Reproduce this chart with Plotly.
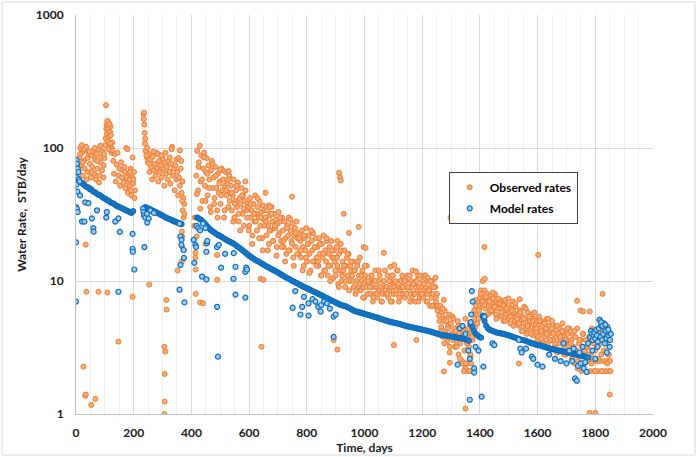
import plotly.graph_objects as go

# ---------------- Observed rates (STB/day) ----------------
# dense daily cloud sampled every 3 days
obs_early_start = 9
obs_early = [68, 85, 100, 74, 92, 62, 80, 70, 96, 58, 84, 66, 90, 76, 60, 88, 72, 95,
             64, 82, 58, 90, 70, 98, 62, 78, 86, 68, 94, 74, 84,
             105, 140, 120, 155, 130, 100, 145, 92, 110,
             80, 64, 90, 56, 75, 92, 62, 70, 52, 78, 60, 68, 55,
             72, 50, 100, 58, 46, 64, 52, 70, 44, 60, 54, 66, 48]
obs_mid_start = 234
obs_mid = [180, 150, 118, 96, 85, 78, 90, 66, 82, 72, 58, 86, 68, 76, 62, 92, 70, 56, 80, 66,
           74, 60, 84, 70, 52, 78, 64, 72, 58, 80, 66, 54, 76, 102, 62, 70, 48, 74, 58, 66,
           44, 60, 52, 70, 46, 56, 42, 38]
obs_late_start = 417
obs_late = [
    62, 95, 48, 78, 104, 56, 88, 40, 70, 92, 52, 66, 84, 44, 74, 58, 36, 68, 80, 50,
    60, 42, 72, 50, 34, 64, 46, 56, 38, 70, 48, 58, 30, 52, 66, 44, 54, 36, 62, 46,
    52, 34, 44, 58, 30, 40, 48, 36, 55, 28, 42, 38, 50, 32, 44, 26, 40, 48, 34, 38,
    36, 26, 42, 30, 34, 22, 38, 28, 44, 32, 24, 36, 30, 40, 26, 33, 21, 37, 29, 34,
    30, 22, 34, 26, 19, 31, 24, 36, 28, 20, 32, 25, 29, 18, 27, 33, 23, 28, 20, 30,
    24, 18, 28, 21, 16, 26, 22, 30, 17, 24, 20, 27, 15, 22, 25, 18, 28, 21, 16, 23,
    20, 15, 24, 18, 13, 21, 17, 25, 14, 19, 22, 16, 12, 20, 17, 23, 14, 18, 21, 15,
    18, 13, 21, 16, 11, 19, 15, 22, 12, 17, 14, 20, 11, 16, 18, 13, 20, 15, 10.5, 17,
    14, 11, 18, 13, 9.5, 16, 12, 19, 10, 14, 12, 17, 9, 13, 15, 11, 16, 10, 13, 12,
    11, 14, 9, 12, 8, 10, 13, 9, 11, 15, 8.5, 10, 12, 9, 7.5, 11, 10, 13, 8, 9.5,
    10, 8, 11, 9, 7, 10, 8, 12, 9, 7.5, 10, 8.5, 11, 9, 7, 8, 10, 9, 12, 8,
    9, 11, 7.5, 8.5, 10, 9, 7, 11, 8, 9.5, 10, 8, 12, 9, 7, 8.5, 10, 9, 11, 8,
    9, 7.5, 10, 8, 11, 9, 8.5, 7, 10, 9, 12, 8, 9.5, 7, 10, 8.5, 11, 9, 7.5, 8,
    9, 10, 7.5, 8.5, 11, 9, 7, 8, 10, 8.5, 6.5, 9, 7.5, 10, 8, 6.5, 9, 7, 8, 6.5,
    6, 5, 6.5, 4.5, 5.5, 3.8, 5, 6, 4.2, 5.2, 3.5, 4.6, 5.6, 3.2, 4.8, 4, 5.4, 3.6, 4.4, 3.2,
    4.2, 3.5, 5, 2.8, 4, 3.4, 4.6, 2.5, 3.8, 4.4, 3, 5.2, 3.6, 2.4, 4, 3.2, 4.8, 2.7, 4.2, 3.6,
    5, 6, 4.5, 6.5, 5.5, 7, 5.2, 6.2, 7.5, 8.5, 6.8, 10,
    7.5, 8.5, 6.2, 7, 8, 6.5, 7.2, 5.8, 7.8, 6.8, 6, 7.4, 6.4, 8, 5.6, 7, 6.2, 6.8, 5.4, 7.2,
    6.2, 5.5, 6.8, 5, 6.4, 7.2, 5.6, 6, 5.2, 6.6, 5.8, 4.8, 6.2, 5.4, 7, 5.8, 5, 6.4, 5.5, 4.8,
    5.6, 4.6, 6, 5, 4.2, 5.4, 4.8, 6.4, 4.4, 5.2, 4, 5.8, 4.6, 5, 4.2, 5.6, 4.8, 3.9, 5.2, 4.4,
    5, 4.2, 3.6, 4.6, 5.4, 3.9, 4.4, 5, 3.5, 4.2, 4.8, 3.8, 4.4, 5.2, 3.4, 4, 4.6, 3.6, 4.2, 5,
    3.6, 4.2, 3.2, 4.6, 3.8, 2.9, 4, 3.4, 4.4, 3.6, 3, 4.8, 3.8, 3.2, 4.2, 2.8, 3.6, 4, 3.3, 4.4,
    3, 3.6, 2.6, 4, 3.2, 2.4, 3.8, 3, 4.4, 2.5, 3.4, 2.8, 3.6, 2.1, 3.2, 4, 2.4, 3, 3.6, 2.5,
    3.2, 2.5, 3.8, 2.1, 2.8, 4.4, 2.5, 3.4, 2.1, 3, 3.8, 2.5, 2.1, 3.3, 2.5, 4.2, 2.8, 2.1, 3.6,
    2.5, 3, 2.1, 3.4, 2.5, 2.8, 2.1, 2.5]
# second pass through the same cloud, every 6 days from day 419
obs_fill_start = 419
obs_fill = [
    45, 72, 35, 58, 85, 40, 64, 50, 33, 76,
    38, 62, 30, 54, 44, 68, 34, 48, 58, 40,
    46, 28, 38, 52, 32, 24, 44, 35, 56, 30,
    24, 38, 19, 32, 28, 42, 21, 30, 17, 26,
    28, 17, 24, 32, 20, 26, 15.5, 22, 30, 18,
    20, 14, 25, 17, 29, 19, 13, 23, 16, 21,
    17, 12, 22, 15, 19, 11.5, 24, 14, 18, 13,
    14, 19, 11, 16, 12, 21, 13, 10, 17, 15,
    12, 15, 9, 17, 11, 13, 10, 16, 8.5, 14,
    10, 12, 8.5, 14, 9.5, 11, 7.5, 13, 9, 10,
    9, 11, 7.5, 10, 8, 12, 9, 7, 10, 8.5,
    8, 10, 7, 11, 9, 8.5, 12, 7.5, 10, 9,
    10, 8, 9, 11, 7.5, 9.5, 8, 10, 7, 11,
    8, 9.5, 11, 7, 8.5, 10, 6.5, 9, 7.5, 6,
    5.5, 4.2, 6.2, 3.4, 5, 4.4, 2.9, 4, 5.2, 3.8,
    3.2, 4.6, 2.6, 3.8, 4.2, 2.2, 3.4, 4.4, 2.8, 3.8,
    5.6, 7.2, 4.8, 6, 8, 7,
    6.6, 7.6, 5.6, 7, 6, 8.2, 6.4, 5.2, 7.4, 6.8,
    5.8, 6.6, 5, 6.2, 7.4, 5.4, 6, 4.6, 6.8, 5.2,
    4.8, 5.8, 4.2, 5.2, 6.2, 4.6, 5.4, 4, 5, 5.8,
    4.4, 3.8, 5, 4.2, 3.4, 4.8, 4, 5.2, 3.6, 4.4,
    4, 3.4, 4.6, 3, 3.8, 4.2, 2.8, 3.6, 4.4, 3.2,
    3.4, 2.6, 4.2, 3, 2.2, 3.6, 2.8, 4, 2.4, 3.2,
    2.8, 3.6, 2.4, 4.2, 2.1, 3.2, 2.6, 3.8, 2.1, 3, 4, 2.4, 2.8, 2.1]

# scattered observed points (day, rate)
obs_extra_days = [103, 104, 106, 107, 109, 110, 112, 113, 115, 116, 118, 119, 121, 124, 125, 113,
                  14, 20, 23, 28, 35, 47, 50, 55, 65, 73, 80, 85, 95, 97,
                  170, 175, 178, 181, 185, 188, 190, 196, 199, 203,
                  235, 236, 238, 239, 241, 244, 247, 253, 268, 285, 296, 310, 325, 331, 348, 355, 360, 365,
                  368, 370, 373, 376,
                  36, 78, 109, 147, 196, 254, 26, 32, 34, 67, 53, 34, 313, 314, 306, 310, 307, 307, 307,
                  352, 367, 368, 368, 367, 410, 412, 414, 414, 415, 418, 415, 430, 440, 449, 489, 489,
                  500, 529, 640, 650, 643, 657, 668, 672, 749, 893, 906, 906, 912, 915, 918, 928, 946, 980,
                  997, 1004, 1067, 1090, 1102, 1103, 1178, 1180, 1219, 1246, 1275, 1275, 1296, 1298,
                  1340, 1345, 1352, 1360, 1366, 1370, 1350, 1416, 1417, 1535, 1538, 1602, 1737, 1749,
                  1758, 1781, 1825, 1850, 1780, 1800]
obs_extra_rates = [118, 210, 150, 128, 160, 112, 138, 148, 122, 152, 132, 108, 125, 100, 96, 98,
                   90, 105, 78, 98, 102, 94, 50, 66, 100, 80, 55, 104, 60, 90,
                   66, 60, 98, 56, 58, 66, 48, 85, 58, 42,
                   165, 185, 130, 108, 95, 88, 100, 76, 94, 90, 88, 92, 85, 98, 82, 84, 96, 80,
                   40, 34, 30, 32,
                   8.3, 8.3, 8.2, 3.5, 7.6, 9.4, 2.27, 1.37, 1.4, 1.3, 1.17, 18.8, 7.2, 6.1, 3.2, 2.95, 2.0, 1.24, 1.0,
                   12, 23.5, 21.6, 18.1, 14, 26, 30, 16.3, 15, 12.2, 21.6, 8, 6.9, 6.8, 19, 10.2, 15.7,
                   69, 67, 10.4, 10.2, 3.2, 46, 37, 36, 43, 3.6, 3.05, 20, 65, 60, 57, 32, 23, 25.5,
                   18, 17.7, 16.3, 12.8, 3.3, 13.2, 11.8, 3.6, 10.6, 10.6, 7.2, 2.09, 2.43, 30,
                   2.4, 2.1, 2.4, 2.1, 2.1, 2.4, 1.1, 18, 10.4, 2.4, 7.3, 15.7, 7.1, 6.0,
                   5.9, 5.9, 8, 1.4, 1.02, 1.02]

# ---------------- Model rates (STB/day) ----------------
model_seg1_start = 18   # every 6 days
model_seg1 = [55, 53.5, 52.5, 51, 50.5, 49, 48.5, 47, 46.5, 45.5, 44.5, 44, 43, 42, 41.5, 40.5,
              40, 39, 38.5, 38, 37, 36.5, 36, 35.5, 35, 34.5, 34, 33.5, 33, 32.5, 33.5]
model_seg2_start = 240
model_seg2 = [36, 35.5, 35, 34.5, 34, 33.5, 33, 32.5, 32, 31.5, 31, 30.5, 30, 29.6, 29.2, 28.8,
              28.4, 28, 27.7, 27.4, 27.1, 26.8]
model_seg3_start = 420
model_seg3 = [
    30, 29.5, 29, 28.2, 27.4, 26.5, 25.6, 24.8, 24.1, 23.6,
    23.1, 22.6, 22.2, 21.9, 21.5, 21.1, 20.7, 20.3, 20, 19.7,
    19.4, 19.1, 18.7, 18.3, 17.9, 17.5, 17.1, 16.7, 16.3, 15.9,
    15.5, 15.2, 14.9, 14.6, 14.3, 14.1, 13.9, 13.6, 13.4, 13.1,
    12.9, 12.7, 12.5, 12.3, 12.1, 11.9, 11.7, 11.5, 11.3, 11.1,
    10.9, 10.7, 10.5, 10.4, 10.2, 10.0, 9.9, 9.7, 9.6, 9.4,
    9.3, 9.1, 9.0, 8.85, 8.75, 8.6, 8.5, 8.35, 8.25, 8.15,
    8.0, 7.9, 7.8, 7.65, 7.55, 7.45, 7.3, 7.2, 7.1, 7.0,
    6.9, 6.8, 6.7, 6.6, 6.55, 6.5, 6.45, 6.35, 6.25, 6.15,
    6.05, 5.95, 5.9, 5.85, 5.8, 5.75, 5.7, 5.65, 5.6, 5.55,
    5.5, 5.45, 5.4, 5.35, 5.3, 5.25, 5.2, 5.15, 5.1, 5.05,
    5.0, 4.95, 4.92, 4.88, 4.85, 4.82, 4.78, 4.74, 4.7, 4.66,
    4.62, 4.58, 4.55, 4.52, 4.49, 4.46, 4.43, 4.4, 4.37, 4.34,
    4.31, 4.28, 4.25, 4.22, 4.19, 4.16, 4.12, 4.08, 4.04, 4.0,
    3.97, 3.94, 3.92, 3.9, 3.88, 3.86, 3.84, 3.82, 3.8, 3.78,
    3.76, 3.74, 3.72, 3.7, 3.68, 3.64, 3.6, 3.55,
    4.7, 4.5, 4.2, 4.0, 3.9, 3.8, 3.75]
model_seg4_start = 1410
model_seg4 = [5.5, 5.0, 4.6, 4.4, 4.3, 4.25, 4.2, 4.15, 4.1, 4.08,
              4.05, 4.02, 4.0, 3.97, 3.94, 3.9, 3.86, 3.82, 3.78, 3.74,
              3.7, 3.66, 3.62, 3.6, 3.58, 3.55, 3.5, 3.46, 3.42, 3.38,
              3.35, 3.32, 3.3, 3.28, 3.25, 3.22, 3.19, 3.16, 3.13, 3.1,
              3.08, 3.06, 3.04, 3.02, 3.0, 2.98, 2.96, 2.94, 2.92, 2.9,
              2.88, 2.86, 2.84, 2.82, 2.8, 2.78, 2.76, 2.74, 2.72, 2.7,
              2.68, 2.66]
model_end_start = 1782  # every 3 days
model_end = [3.8, 4.2, 4.0, 3.6, 3.9, 4.1, 3.7, 4.3, 3.9, 3.5, 4.4, 5.1, 3.8, 4.6, 3.6, 4.0,
             4.8, 3.4, 4.2, 3.7, 4.5, 3.9, 4.1, 3.6, 4.0]

model_extra_days = [0, 0, 2, 4, 6, 8, 3, 10, 12, 1, 5, 14, 0, 3, 6, 21, 29, 32, 43, 55, 60, 61, 73, 107, 105,
                    136, 147, 147, 152, 196, 196, 197, 202, 237, 247, 232, 234, 236, 240, 246, 252, 258, 270,
                    359, 362, 366, 365, 373, 374, 362, 359, 376, 408, 414, 416, 410, 437, 452, 452, 454,
                    418, 424, 430, 440, 449, 455, 489, 489, 492, 495, 503, 517, 546, 547, 553, 553, 587, 587,
                    590, 593, 751, 760, 778, 784, 790, 806, 806, 820, 830, 840, 848, 850, 860, 870, 880, 893,
                    893, 900, 1323, 1330, 1340, 1350, 1360, 1365, 1365, 1368, 1370, 1372, 1375, 1380, 1380,
                    1385, 1395, 1406, 1412, 1413, 1416, 1444, 1450, 1535, 1540, 1545, 1560, 1580, 1585, 1600,
                    1617, 1640, 1660, 1680, 1690, 1700, 1710, 1720, 1725, 1730, 1736, 1740, 1745, 1750, 1756,
                    1760, 1765, 1770, 1775, 1790, 1800, 1808, 1815, 1820, 1825, 1835, 1845, 1850, 1840]
model_extra_rates = [7, 19.5, 81, 76, 70, 66, 60, 58, 56, 53, 47, 44, 36, 35, 33, 28, 28, 39, 38.5, 29.6,
                     25, 23.5, 34, 33, 30, 28, 29.6, 8.3, 23.4, 22.6, 17.4, 16.6, 12.2, 18, 27.5, 35, 33,
                     31, 30, 32, 29.5, 34, 32.5, 27, 21.6, 20.4, 18.7, 17.1, 14.9, 13.2, 8.6, 6.9, 20.4,
                     18.7, 18, 13.7, 10.8, 10.3, 16.6, 19.3, 26, 25, 24, 27, 25, 20, 18, 6.4, 2.7, 18.7,
                     12.6, 16, 10.4, 16.2, 7.9, 12.8, 7.5, 11.7, 12.6, 12.2, 6.3, 8.4, 5.6, 6.4, 7.6, 5.5,
                     6.8, 7.3, 7, 6.4, 5.9, 6.6, 7.0, 6.8, 6.2, 5.4, 3.8, 5.6, 2.35, 4.4, 4.6, 4.0, 3.0,
                     1.28, 2.6, 4.9, 5.6, 8.4, 7, 2.2, 2.05, 3.2, 3.0, 1.35, 2.27, 5.3, 5.4, 3.4, 3.3, 3.6,
                     3.1, 2.9, 3.1, 2.7, 2.6, 2.35, 2.27, 2.8, 2.6, 2.5, 3.4, 2.4, 3.0, 2.5, 3.1, 1.85,
                     1.78, 2.3, 2.9, 2.4, 3.2, 2.2, 2.45, 2.07, 3.4, 3.0, 2.6, 3.2, 5.1, 4.9, 4.6, 4.7,
                     4.3, 3.2, 2.9]

x_ticks = [0, 200, 400, 600, 800, 1000, 1200, 1400, 1600, 1800, 2000]
y_ticks = [1, 10, 100, 1000]


def grid_days(start, step, values):
    return [start + step * i for i in range(len(values))]


obs_x = (grid_days(obs_early_start, 3, obs_early) + grid_days(obs_mid_start, 3, obs_mid)
         + grid_days(obs_late_start, 3, obs_late) + grid_days(obs_fill_start, 6, obs_fill)
         + obs_extra_days)
obs_y = obs_early + obs_mid + obs_late + obs_fill + obs_extra_rates

line_x = (grid_days(model_seg1_start, 6, model_seg1) + grid_days(model_seg2_start, 6, model_seg2)
          + grid_days(model_seg3_start, 6, model_seg3) + grid_days(model_seg4_start, 6, model_seg4))
line_y = model_seg1 + model_seg2 + model_seg3 + model_seg4
scat_x = grid_days(model_end_start, 3, model_end) + model_extra_days
scat_y = model_end + model_extra_rates

FONT = "Lato"
BLUE_EDGE = "#0A6EBD"

fig = go.Figure()
fig.add_trace(go.Scatter(
    x=obs_x, y=obs_y, mode="markers", name="Observed rates",
    marker=dict(size=5, color="#F5AC78", line=dict(color="#ED7D31", width=1)),
))
# dense part of the model series (overlapping markers read as a solid band)
fig.add_trace(go.Scatter(
    x=line_x, y=line_y, mode="markers", name="Model rates", legendgroup="model", showlegend=False,
    marker=dict(size=5, color="#2F7DC6", line=dict(color=BLUE_EDGE, width=1.2)),
))
fig.add_trace(go.Scatter(
    x=scat_x, y=scat_y, mode="markers", name="Model rates", legendgroup="model",
    marker=dict(size=5, color="#A6CBEA", line=dict(color=BLUE_EDGE, width=1.2)),
))

fig.update_layout(
    width=697, height=457,
    margin=dict(l=76, r=44, t=15, b=43),
    paper_bgcolor="white", plot_bgcolor="white",
    font=dict(family=FONT, size=12, color="#1a1a1a"),
    legend=dict(
        x=0.646, y=0.607, xanchor="left", yanchor="top",
        bgcolor="white", bordercolor="#404040", borderwidth=1,
        font=dict(family=FONT, size=12, color="#000000", weight=700),
        itemwidth=30, tracegroupgap=2,
    ),
    shapes=[dict(type="rect", xref="paper", yref="paper",
                 x0=-0.1282, x1=1.0728, y0=-0.1028, y1=1.0326,
                 line=dict(color="#D9D9D9", width=1), fillcolor="rgba(0,0,0,0)", layer="below")],
)

fig.update_xaxes(
    range=[0, 2000], tickvals=x_ticks, ticktext=[str(v) for v in x_ticks],
    showgrid=True, gridcolor="#D9D9D9", gridwidth=1,
    minor=dict(dtick=50, showgrid=True, gridcolor="#EFEFEF", gridwidth=1),
    showline=True, linecolor="#BFBFBF", linewidth=1,
    ticks="", ticklabelstandoff=8, automargin=False,
    tickfont=dict(family=FONT, size=12, color="#1a1a1a", weight=700),
    title=dict(text="Time, days", font=dict(family=FONT, size=12, color="#1a1a1a", weight=700),
               standoff=4),
    zeroline=False,
)
fig.update_yaxes(
    type="log", range=[0, 3], tickvals=y_ticks, ticktext=[str(v) for v in y_ticks],
    showgrid=True, gridcolor="#D9D9D9", gridwidth=1,
    showline=True, linecolor="#BFBFBF", linewidth=1,
    ticks="", ticklabelstandoff=9, automargin=False,
    tickfont=dict(family=FONT, size=12, color="#1a1a1a", weight=700),
    title=dict(text="Water Rate,  STB/day", font=dict(family=FONT, size=12, color="#1a1a1a", weight=700),
               standoff=6),
    zeroline=False,
)

fig.write_html("out.html")
